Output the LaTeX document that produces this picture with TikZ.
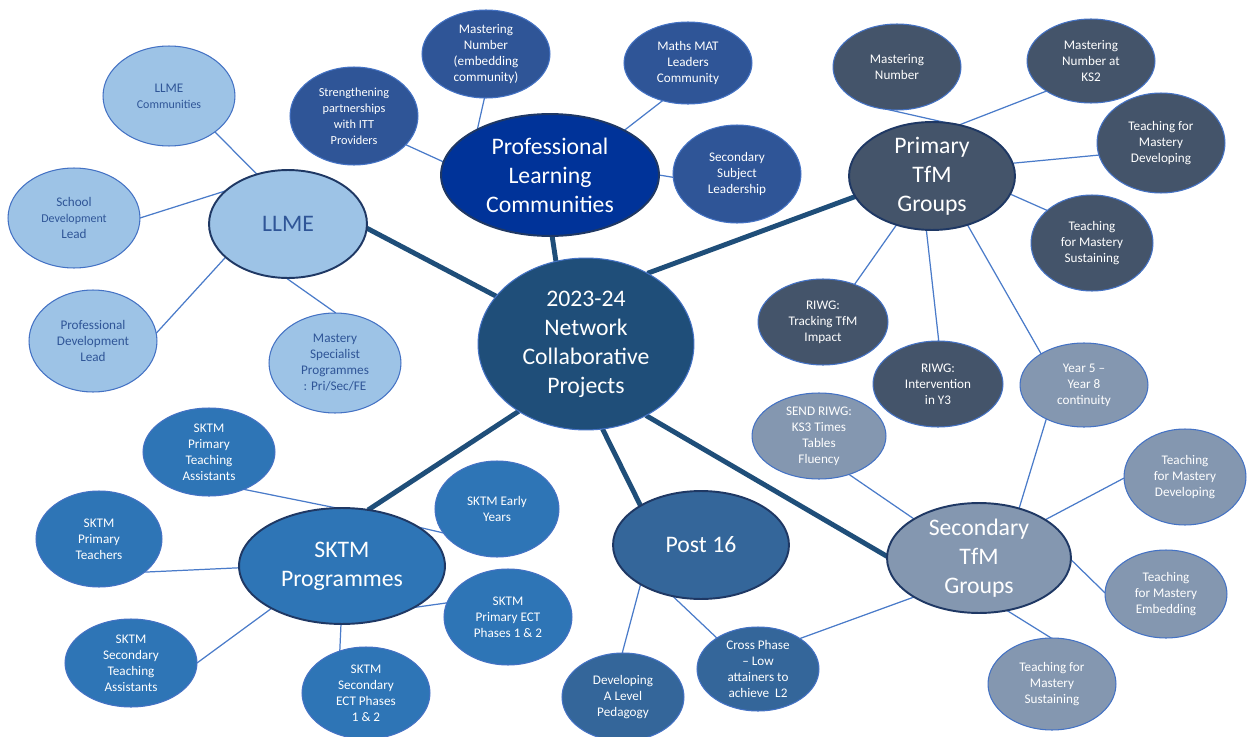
\documentclass[tikz,border=0pt]{standalone}
\usepackage{fontspec}
\setmainfont{Carlito}
\usetikzlibrary{shapes.geometric,backgrounds}
\definecolor{llmefill}{HTML}{9DC3E6}
\definecolor{llmetext}{HTML}{2F5597}
\definecolor{plcmain}{HTML}{003399}
\definecolor{plcsat}{HTML}{2F5597}
\definecolor{prim}{HTML}{44546A}
\definecolor{secd}{HTML}{8497B0}
\definecolor{sktmcol}{HTML}{2E75B6}
\definecolor{postcol}{HTML}{34669A}
\definecolor{centrecol}{HTML}{1F4E79}
\definecolor{thkcol}{HTML}{1F4E79}
\definecolor{thincol}{HTML}{4A7BC9}
\definecolor{mainedge}{HTML}{1F3864}
\definecolor{satedge}{HTML}{4472C4}
\begin{document}
\begin{tikzpicture}[x=0.02cm,y=-0.02cm,
  ell/.style 2 args={ellipse, inner sep=0pt, outer sep=0pt, minimum width=#1*0.04cm, minimum height=#2*0.04cm},
  sat/.style={draw=satedge, line width=0.6pt},
  hub/.style={draw=mainedge, line width=1.1pt},
  stxt/.style={text=white, align=center, font=\fontsize{7.5}{9.1}\selectfont, inner sep=0pt},
  ltxt/.style={stxt, text=llmetext},
  htxt/.style={text=white, align=center, font=\fontsize{13.5}{16.5}\selectfont, inner sep=0pt},
  thickline/.style={draw=thkcol, line width=2.8pt},
  thinline/.style={draw=thincol, line width=0.7pt},
]
\useasboundingbox (0,0) rectangle (1249,737);
\newcommand{\smf}{\fontsize{6.8}{9.1}\selectfont}
% centre
\node[ell={108}{86}, sat, fill=centrecol, label={[htxt]center:2023-24\\Network\\Collaborative\\Projects}] (cen) at (586,344) {};
% LLME
\node[ell={79}{54}, hub, fill=llmefill, label={[htxt,text=llmetext]center:LLME}] (llme) at (288,224) {};
\node[ell={66}{50}, sat, fill=llmefill, label={[ltxt]center:LLME\\{\smf Communities}}] (lcomm) at (169,96) {};
\node[ell={66}{50}, sat, fill=llmefill, label={[ltxt]center:School\\{\smf Development}\\Lead}] (lsdl) at (74,218) {};
\node[ell={64}{51}, sat, fill=llmefill, label={[ltxt]center:Professional\\Development\\Lead}] (lpdl) at (93,341) {};
\node[ell={66}{50}, sat, fill=llmefill, label={[ltxt]center:Mastery\\Specialist\\Programmes\\: Pri/Sec/FE}] (lmsp) at (335,363) {};
% PLC
\node[ell={109}{61}, hub, fill=plcmain, label={[htxt]center:Professional\\Learning\\Communities}] (plc) at (550,175) {};
\node[ell={64}{49}, sat, fill=plcsat, label={[stxt,font=\fontsize{7}{9.1}\selectfont]center:Strengthening\\partnerships\\with ITT\\Providers}] (pstr) at (354,116) {};
\node[ell={64}{44}, sat, fill=plcsat, label={[stxt]center:Mastering\\Number\\(embedding\\community)}] (pmne) at (486,54) {};
\node[ell={64}{41}, sat, fill=plcsat, label={[stxt]center:Maths MAT\\Leaders\\Community}] (pmat) at (688,63) {};
\node[ell={64}{49}, sat, fill=plcsat, label={[stxt]center:Secondary\\Subject\\Leadership}] (pssl) at (737,174) {};
% Primary TfM
\node[ell={83}{54}, hub, fill=prim, label={[htxt]center:Primary\\TfM\\Groups}] (ptfm) at (932,176) {};
\node[ell={64}{43}, sat, fill=prim, label={[stxt]center:Mastering\\Number}] (pmn) at (897,67) {};
\node[ell={64}{42}, sat, fill=prim, label={[stxt]center:Mastering\\Number at\\KS2}] (pks2) at (1091,61) {};
\node[ell={64}{50}, sat, fill=prim, label={[stxt]center:Teaching for\\Mastery\\Developing}] (ptdev) at (1161,143) {};
\node[ell={61}{48}, sat, fill=prim, label={[stxt]center:Teaching\\for Mastery\\Sustaining}] (ptsus) at (1092,243) {};
\node[ell={65}{43}, sat, fill=prim, label={[stxt]center:RIWG:\\Tracking TfM\\Impact}] (rtrack) at (823,322) {};
\node[ell={65}{43}, sat, fill=prim, label={[stxt]center:RIWG:\\Intervention\\in Y3}] (rint) at (938,384) {};
% Secondary TfM
\node[ell={92}{55}, hub, fill=secd, label={[htxt]center:Secondary\\TfM\\Groups}] (stfm) at (979,558) {};
\node[ell={64}{42}, sat, fill=secd, label={[stxt]center:Year 5 –\\Year 8\\continuity}] (y58) at (1084,385) {};
\node[ell={67}{43}, sat, fill=secd, label={[stxt]center:SEND RIWG:\\KS3 Times\\Tables\\Fluency}] (send) at (819,436) {};
\node[ell={61}{48}, sat, fill=secd, label={[stxt]center:Teaching\\for Mastery\\Developing}] (stdev) at (1185,477) {};
\node[ell={61}{44}, sat, fill=secd, label={[stxt]center:Teaching\\for Mastery\\Embedding}] (stemb) at (1166,594) {};
\node[ell={64}{46}, sat, fill=secd, label={[stxt]center:Teaching for\\Mastery\\Sustaining}] (stsus) at (1052,684) {};
% Post 16
\node[ell={88}{54}, hub, fill=postcol, label={[htxt]center:Post 16}] (p16) at (701,545) {};
\node[ell={61}{44}, sat, fill=postcol, label={[stxt]center:Developing\\A Level\\Pedagogy}] (dal) at (623,697) {};
\node[ell={61}{42}, sat, fill=postcol, label={[stxt]center:Cross Phase\\– Low\\attainers to\\achieve\ \ L2}] (cross) at (758,669) {};
% SKTM
\node[ell={103}{58}, hub, fill=sktmcol, label={[htxt]center:SKTM\\Programmes}] (sk) at (342,566) {};
\node[ell={66}{44}, sat, fill=sktmcol, label={[stxt]center:SKTM\\Primary\\Teaching\\Assistants}] (skpta) at (209,452) {};
\node[ell={63}{48}, sat, fill=sktmcol, label={[stxt]center:SKTM\\Primary\\Teachers}] (skpt) at (99,539) {};
\node[ell={66}{44}, sat, fill=sktmcol, label={[stxt]center:SKTM\\Secondary\\Teaching\\Assistants}] (sksta) at (131,663) {};
\node[ell={64}{46}, sat, fill=sktmcol, label={[stxt]center:SKTM\\Secondary\\ECT Phases\\1 \& 2}] (skect) at (366,693) {};
\node[ell={62}{48}, sat, fill=sktmcol, label={[stxt]center:SKTM Early\\Years}] (skey) at (497,509) {};
\node[ell={64}{48}, sat, fill=sktmcol, label={[stxt]center:SKTM\\Primary ECT\\Phases 1 \& 2}] (skpect) at (508,617) {};
% connectors
\begin{scope}[on background layer]
\draw[thickline] (llme.357) -- (cen.152);
\draw[thickline] (plc.272) -- (cen.110);
\draw[thickline] (ptfm.195) -- (cen.49);
\draw[thickline] (cen.225) -- (sk.65);
\draw[thickline] (cen.281) -- (p16.147);
\draw[thickline] (cen.310) -- (stfm.179);
\draw[thinline] (llme.122) -- (lcomm.322);
\draw[thinline] (llme.152) -- (lsdl.0);
\draw[thinline] (llme.208) -- (lpdl.7);
\draw[thinline] (llme.268) -- (lmsp.89);
\draw[thinline] (plc.173) -- (pstr.331);
\draw[thinline] (plc.148) -- (pmne.268);
\draw[thinline] (plc.31) -- (pmat.236);
\draw[thinline] (plc.0) -- (pssl.183);
\draw[thinline] (ptfm.74) -- (pmn.258);
\draw[thinline] (ptfm.62) -- (pks2.214);
\draw[thinline] (ptfm.9) -- (ptdev.191);
\draw[thinline] (ptfm.347) -- (ptsus.144);
\draw[thinline] (ptfm.234) -- (rtrack.50);
\draw[thinline] (ptfm.264) -- (rint.89);
\draw[thinline] (ptfm.306) -- (y58.144);
\draw[thinline] (stfm.51) -- (y58.222);
\draw[thinline] (stfm.149) -- (send.308);
\draw[thinline] (stfm.30) -- (stdev.181);
\draw[thinline] (stfm.359) -- (stemb.179);
\draw[thinline] (stfm.298) -- (stsus.91);
\draw[thinline] (stfm.211) -- (cross.36);
\draw[thinline] (p16.213) -- (dal.91);
\draw[thinline] (p16.241) -- (cross.143);
\draw[thinline] (sk.95) -- (skpta.313);
\draw[thinline] (sk.27) -- (skey.204);
\draw[thinline] (sk.181) -- (skpt.324);
\draw[thinline] (sk.211) -- (sksta.0);
\draw[thinline] (sk.269) -- (skect.122);
\draw[thinline] (sk.330) -- (skpect.167);
\end{scope}
\end{tikzpicture}
\end{document}
